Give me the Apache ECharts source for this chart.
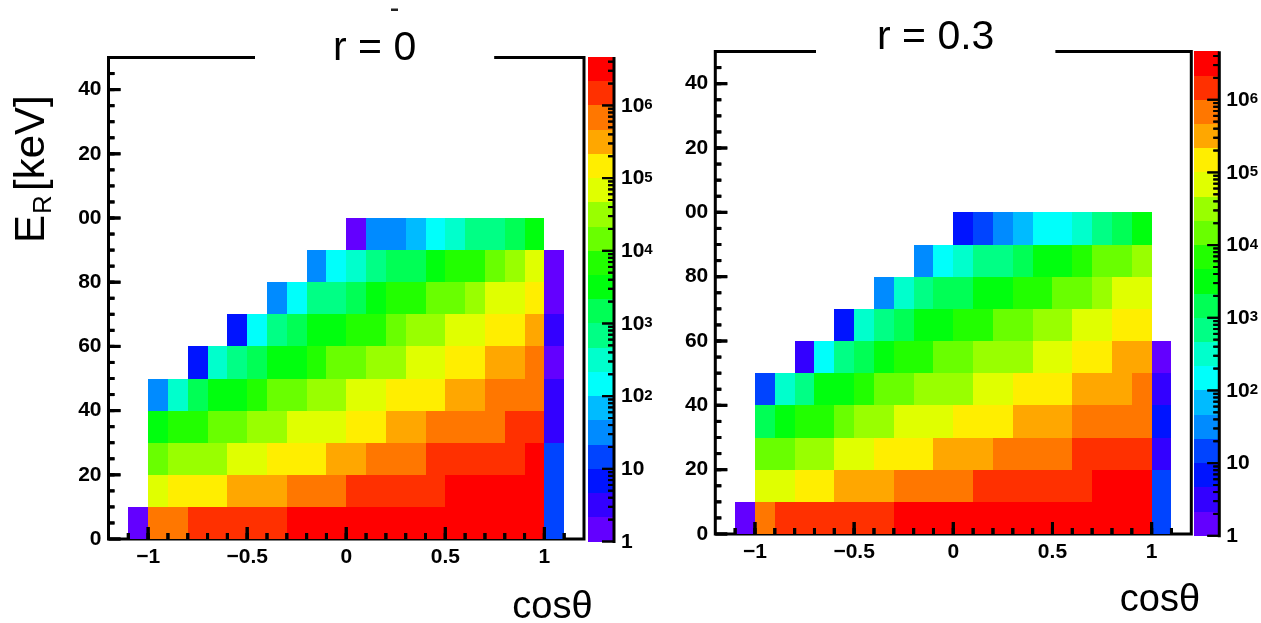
<!DOCTYPE html>
<html><head><meta charset="utf-8">
<script src="https://cdn.jsdelivr.net/npm/echarts@6/dist/echarts.min.js"></script>
<style>html,body{margin:0;padding:0;background:#fff}#c{width:1261px;height:623px}</style>
</head><body><div id="c"></div>
<script>
// ---------------- data ----------------
const cosBinStarts = [-1.1,-1.0,-0.9,-0.8,-0.7,-0.6,-0.5,-0.4,-0.3,-0.2,-0.1,0.0,0.1,0.2,0.3,0.4,0.5,0.6,0.7,0.8,0.9,1.0];
const energyBinStarts = [0,10,20,30,40,50,60,70,80,90];
const _ = null;
// r = 0 : counts, one array per E_R bin, columns follow cosBinStarts
const r0_E0  = [2,7e5,7e5,1.5e6,1.5e6,1.5e6,1.5e6,1.5e6,3e6,3e6,3e6,3e6,3e6,3e6,3e6,3e6,3e6,3e6,3e6,3e6,3e6,15];
const r0_E10 = [_,7e4,1.5e5,1.5e5,1.5e5,3e5,3e5,3e5,7e5,7e5,7e5,1.5e6,1.5e6,1.5e6,1.5e6,1.5e6,3e6,3e6,3e6,3e6,3e6,15];
const r0_E20 = [_,1.5e4,3e4,3e4,3e4,7e4,7e4,1.5e5,1.5e5,1.5e5,3e5,3e5,7e5,7e5,7e5,1.5e6,1.5e6,1.5e6,1.5e6,1.5e6,3e6,15];
const r0_E30 = [_,3000,7000,7000,1.5e4,1.5e4,3e4,3e4,7e4,7e4,7e4,1.5e5,1.5e5,3e5,3e5,7e5,7e5,7e5,7e5,1.5e6,1.5e6,3];
const r0_E40 = [_,30,300,1500,3000,3000,7000,1.5e4,1.5e4,3e4,3e4,7e4,7e4,1.5e5,1.5e5,1.5e5,3e5,3e5,7e5,7e5,7e5,3];
const r0_E50 = [_,_,_,7,300,700,1500,3000,3000,7000,1.5e4,1.5e4,3e4,3e4,7e4,7e4,1.5e5,1.5e5,3e5,3e5,7e5,2];
const r0_E60 = [_,_,_,_,_,7,150,700,1500,3000,3000,7000,7000,1.5e4,3e4,3e4,7e4,7e4,1.5e5,1.5e5,3e5,3];
const r0_E70 = [_,_,_,_,_,_,_,30,150,700,700,1500,3000,7000,7000,1.5e4,1.5e4,3e4,7e4,7e4,1.5e5,2];
const r0_E80 = [_,_,_,_,_,_,_,_,_,30,150,300,700,1500,1500,3000,7000,7000,1.5e4,3e4,7e4,2];
const r0_E90 = [_,_,_,_,_,_,_,_,_,_,_,2,30,30,70,150,300,700,700,1500,3000,_];
// r = 0.3
const r3_E0  = [2,7e5,1.5e6,1.5e6,1.5e6,1.5e6,1.5e6,1.5e6,3e6,3e6,3e6,3e6,3e6,3e6,3e6,3e6,3e6,3e6,3e6,3e6,3e6,15];
const r3_E10 = [_,7e4,7e4,1.5e5,1.5e5,3e5,3e5,3e5,7e5,7e5,7e5,7e5,1.5e6,1.5e6,1.5e6,1.5e6,1.5e6,1.5e6,3e6,3e6,3e6,15];
const r3_E20 = [_,1.5e4,1.5e4,3e4,3e4,7e4,7e4,1.5e5,1.5e5,1.5e5,3e5,3e5,3e5,7e5,7e5,7e5,7e5,1.5e6,1.5e6,1.5e6,1.5e6,3];
const r3_E30 = [_,1500,3000,7000,7000,1.5e4,3e4,3e4,7e4,7e4,7e4,1.5e5,1.5e5,1.5e5,3e5,3e5,3e5,7e5,7e5,7e5,7e5,7];
const r3_E40 = [_,15,300,700,3000,3000,7000,1.5e4,1.5e4,3e4,3e4,3e4,7e4,7e4,1.5e5,1.5e5,1.5e5,3e5,3e5,3e5,7e5,3];
const r3_E50 = [_,_,_,3,150,700,1500,3000,7000,7000,1.5e4,1.5e4,3e4,3e4,3e4,7e4,7e4,1.5e5,1.5e5,3e5,3e5,2];
const r3_E60 = [_,_,_,_,_,7,300,700,1500,3000,3000,7000,7000,1.5e4,1.5e4,3e4,3e4,7e4,7e4,1.5e5,1.5e5,_];
const r3_E70 = [_,_,_,_,_,_,_,30,300,700,1500,1500,3000,3000,7000,7000,1.5e4,1.5e4,3e4,7e4,7e4,_];
const r3_E80 = [_,_,_,_,_,_,_,_,_,30,150,300,700,700,1500,3000,3000,7000,1.5e4,1.5e4,3e4,_];
const r3_E90 = [_,_,_,_,_,_,_,_,_,_,_,7,15,30,70,150,150,300,700,1500,3000,_];

const panelTitles = ['r = 0', 'r = 0.3'];
const xTickValues = [-1, -0.5, 0, 0.5, 1];
const xTickLabels = ['\u22121', '\u22120.5', '0', '0.5', '1'];
const yTickValues = [0, 20, 40, 60, 80, 100, 120, 140];
const yTickLabels = ['0', '20', '40', '60', '80', '00', '20', '40'];
const zDecades = [0, 1, 2, 3, 4, 5, 6];          // colour axis: log10 of counts
const zMinorMultipliers = [2, 3, 4, 5, 6, 7, 8, 9];

// ---------------- style / layout ----------------
const FONT = "'Liberation Sans', Arial, Helvetica, sans-serif";
const palette = ['#6300ff','#3300ff','#0014ff','#0044ff','#008bff','#00bbff','#00fffb','#00ffcc','#00ff85','#00ff55',
                 '#00ff0e','#22ff00','#69ff00','#99ff00','#e0ff00','#ffee00','#ffa700','#ff7700','#ff3000','#ff0000'];
const N_BANDS = 20, Z_LOG_MAX = 20 / 3;
const COS_BIN = 0.1, E_BIN = 10;
const X_MIN = -1.2, X_MAX = 1.2, Y_MIN = 0, Y_MAX = 150;

const leftRows  = [r0_E0, r0_E10, r0_E20, r0_E30, r0_E40, r0_E50, r0_E60, r0_E70, r0_E80, r0_E90];
const rightRows = [r3_E0, r3_E10, r3_E20, r3_E30, r3_E40, r3_E50, r3_E60, r3_E70, r3_E80, r3_E90];

function cells(rows) {
  const out = [];
  rows.forEach((row, r) => row.forEach((v, c) => { if (v != null) out.push([cosBinStarts[c], energyBinStarts[r], v]); }));
  return out;
}
function renderCell(params, api) {
  const x0 = api.value(0), y0 = api.value(1);
  const a = api.coord([x0, y0 + E_BIN]), b = api.coord([x0 + COS_BIN, y0]);
  const x = Math.round(a[0]), y = Math.round(a[1]);
  return { type: 'rect', shape: { x: x, y: y, width: Math.round(b[0]) - x, height: Math.round(b[1]) - y }, style: { fill: api.visual('color') } };
}
function renderBand(params, api) {
  const k = api.value(2);
  const step = Z_LOG_MAX / N_BANDS;
  const a = api.coord([0, (k + 1) * step]), b = api.coord([1, k * step]);
  const x = Math.round(a[0]), y = Math.round(a[1]);
  return { type: 'rect', shape: { x: x, y: y, width: Math.round(b[0]) - x, height: Math.round(b[1]) - y }, style: { fill: palette[k] } };
}
const bandData = palette.map((c, k) => [0, k * Z_LOG_MAX / N_BANDS, k]);

const xMinor = [], yMinor = [], zMinor = [];
for (let i = -11; i <= 11; i++) xMinor.push(i / 10);
for (let v = 5; v < Y_MAX; v += 5) yMinor.push(v);
zDecades.forEach(d => zMinorMultipliers.forEach(m => { const v = d + Math.log10(m); if (v < Z_LOG_MAX) zMinor.push(v); }));

const pieces = palette.map((c, k) => ({ gte: Math.pow(10, k / 3), lt: Math.pow(10, (k + 1) / 3), color: c }));
function pick(values, labels, v) { const i = values.findIndex(t => Math.abs(t - v) < 1e-6); return i < 0 ? '' : labels[i]; }
const labelStyle = { color: '#000', fontSize: 21, fontWeight: 'bold', fontFamily: FONT };

// tick shapes (thin filled rectangles) at a pixel anchor
function tickShape(p, dir, len, w) {
  if (dir === 'up') return { x: p[0] - w / 2, y: p[1] - len, width: w, height: len };
  if (dir === 'right') return { x: p[0], y: p[1] - w / 2, width: len, height: w };
  return { x: p[0] - len, y: p[1] - w / 2, width: len, height: w };
}
function tickSeries(xi, yi, data, dir, len, w) {
  return { type: 'custom', xAxisIndex: xi, yAxisIndex: yi, clip: false, encode: { x: 0, y: 1 }, data: data, z: 6, silent: true,
    renderItem: function (params, api) {
      return { type: 'rect', shape: tickShape(api.coord([api.value(0), api.value(1)]), dir, len, w), style: { fill: '#000' } };
    } };
}

function panelX(g) {
  return { type: 'value', gridIndex: g, min: X_MIN, max: X_MAX, interval: 0.1, position: 'bottom',
    splitLine: { show: false }, axisLine: { show: false, onZero: false }, axisTick: { show: false },
    axisLabel: Object.assign({ show: true, customValues: xTickValues, margin: 8, formatter: v => pick(xTickValues, xTickLabels, v) }, labelStyle) };
}
function panelY(g) {
  return { type: 'value', gridIndex: g, min: Y_MIN, max: Y_MAX, interval: 5, position: 'left',
    splitLine: { show: false }, axisLine: { show: false, onZero: false }, axisTick: { show: false },
    axisLabel: Object.assign({ show: true, customValues: yTickValues, margin: 7, formatter: v => pick(yTickValues, yTickLabels, v) }, labelStyle) };
}
function colorbarY(g) {
  return { type: 'value', gridIndex: g, min: 0, max: Z_LOG_MAX, position: 'right',
    splitLine: { show: false }, axisLine: { show: false, onZero: false }, axisTick: { show: false },
    axisLabel: { show: true, customValues: zDecades, margin: 7,
      formatter: v => { const d = Math.round(v); return d === 0 ? '{b|1}' : d === 1 ? '{b|10}' : '{b|10}{s|' + d + '}'; },
      rich: {
        b: { fontSize: 21, fontWeight: 'bold', fontFamily: FONT, color: '#000', lineHeight: 22, padding: [10, 0, 0, 0], verticalAlign: 'bottom' },
        s: { fontSize: 15, fontWeight: 'bold', fontFamily: FONT, color: '#000', lineHeight: 15, padding: [3, 0, 0, 0], verticalAlign: 'top' }
      } } };
}
function titleOf(text, left, top, padX) {
  return { text: text, left: left, top: top, padding: [5, padX], backgroundColor: '#fff', z: 20,
           textStyle: { fontSize: 41, fontWeight: 'normal', color: '#000', fontFamily: FONT, lineHeight: 40 } };
}

const series = [
  { type: 'custom', name: panelTitles[0], xAxisIndex: 0, yAxisIndex: 0, renderItem: renderCell, encode: { x: 0, y: 1 }, data: cells(leftRows), z: 2 },
  { type: 'custom', name: panelTitles[1], xAxisIndex: 1, yAxisIndex: 1, renderItem: renderCell, encode: { x: 0, y: 1 }, data: cells(rightRows), z: 2 },
  { type: 'custom', xAxisIndex: 2, yAxisIndex: 2, renderItem: renderBand, encode: { x: 0, y: 1 }, data: bandData, z: 2 },
  { type: 'custom', xAxisIndex: 3, yAxisIndex: 3, renderItem: renderBand, encode: { x: 0, y: 1 }, data: bandData, z: 2 }
];
[0, 1].forEach(g => {
  series.push(tickSeries(g, g, xTickValues.map(v => [v, Y_MIN]), 'up', 12, 3));
  series.push(tickSeries(g, g, xMinor.map(v => [v, Y_MIN]), 'up', 6, 3));
  series.push(tickSeries(g, g, yTickValues.map(v => [X_MIN, v]), 'right', 12, 3));
  series.push(tickSeries(g, g, yMinor.map(v => [X_MIN, v]), 'right', 6, 3));
});
[2, 3].forEach(g => {
  series.push(tickSeries(g, g, zDecades.map(v => [1, v]), 'left', 12, 2));
  series.push(tickSeries(g, g, zMinor.map(v => [1, v]), 'left', 6, 2));
});

const baseGraphic = [
  { type: 'text', x: 552.5, y: 608, style: { text: 'cos\u03b8', fontSize: 38, fontFamily: FONT, fill: '#000', align: 'center', verticalAlign: 'middle' } },
  { type: 'text', x: 1160, y: 601, style: { text: 'cos\u03b8', fontSize: 38, fontFamily: FONT, fill: '#000', align: 'center', verticalAlign: 'middle' } },
  { type: 'group', x: 47, y: 243, rotation: Math.PI / 2, children: [
    { type: 'text', x: 0, y: -14.6, style: { text: 'E', fontSize: 42, fontFamily: FONT, fill: '#000', align: 'left', verticalAlign: 'middle' } },
    { type: 'text', x: 29, y: -3, style: { text: 'R', fontSize: 26, fontFamily: FONT, fill: '#000', align: 'left', verticalAlign: 'middle' } },
    { type: 'text', x: 52, y: -14.6, style: { text: '[keV]', fontSize: 42, fontFamily: FONT, fill: '#000', align: 'left', verticalAlign: 'middle' } }
  ] },
  { type: 'rect', shape: { x: 391, y: 8.5, width: 7, height: 2.5 }, style: { fill: '#222' } }
];

const chart = echarts.init(document.getElementById('c'), null, { renderer: 'canvas' });
chart.setOption({
  animation: false,
  backgroundColor: '#fff',
  title: [titleOf(panelTitles[0], 255, 24, 78), titleOf(panelTitles[1], 816, 12.5, 61)],
  grid: [
    { left: 108.5, top: 57.5, width: 475.5, height: 481.5, show: true, borderColor: '#000', borderWidth: 3, backgroundColor: 'rgba(0,0,0,0)' },
    { left: 715.3, top: 51.5, width: 476, height: 482.5, show: true, borderColor: '#000', borderWidth: 3, backgroundColor: 'rgba(0,0,0,0)' },
    { left: 588, top: 57, width: 26, height: 484.5 },
    { left: 1193.5, top: 51.3, width: 26.5, height: 484.5 }
  ],
  xAxis: [panelX(0), panelX(1), { type: 'value', gridIndex: 2, min: 0, max: 1, show: false }, { type: 'value', gridIndex: 3, min: 0, max: 1, show: false }],
  yAxis: [panelY(0), panelY(1), colorbarY(2), colorbarY(3)],
  visualMap: [{ type: 'piecewise', show: false, dimension: 2, seriesIndex: [0, 1], pieces: pieces }],
  series: series,
  graphic: baseGraphic
});

// axis furniture placed through the axes' own scales (convertToPixel)
const tickGraphic = [];
function px(g, v) { return chart.convertToPixel({ xAxisIndex: g, yAxisIndex: g }, v); }
function addTick(g, v, dir, len, w) {
  const p = px(g, v);
  if (p && isFinite(p[0]) && isFinite(p[1])) tickGraphic.push({ type: 'rect', z: 30, silent: true, shape: tickShape(p, dir, len, w), style: { fill: '#000' } });
}
[0, 1].forEach(g => {
  xTickValues.forEach(v => addTick(g, [v, Y_MIN], 'up', 12, 3));
  xMinor.forEach(v => addTick(g, [v, Y_MIN], 'up', 6, 3));
  yTickValues.forEach(v => addTick(g, [X_MIN, v], 'right', 12, 3));
  yMinor.forEach(v => addTick(g, [X_MIN, v], 'right', 6, 3));
});
[2, 3].forEach(g => {
  const a = px(g, [1, 0]), b = px(g, [1, Z_LOG_MAX]);
  if (a && b) tickGraphic.push({ type: 'rect', z: 30, silent: true, shape: { x: a[0] - 1.5, y: b[1], width: 3, height: a[1] - b[1] + 1.5 }, style: { fill: '#000' } });
  zDecades.forEach(v => addTick(g, [1, v], 'left', 12, 2));
  zMinor.forEach(v => addTick(g, [1, v], 'left', 6, 2));
});
chart.setOption({ graphic: baseGraphic.concat(tickGraphic) });
</script>
</body></html>
